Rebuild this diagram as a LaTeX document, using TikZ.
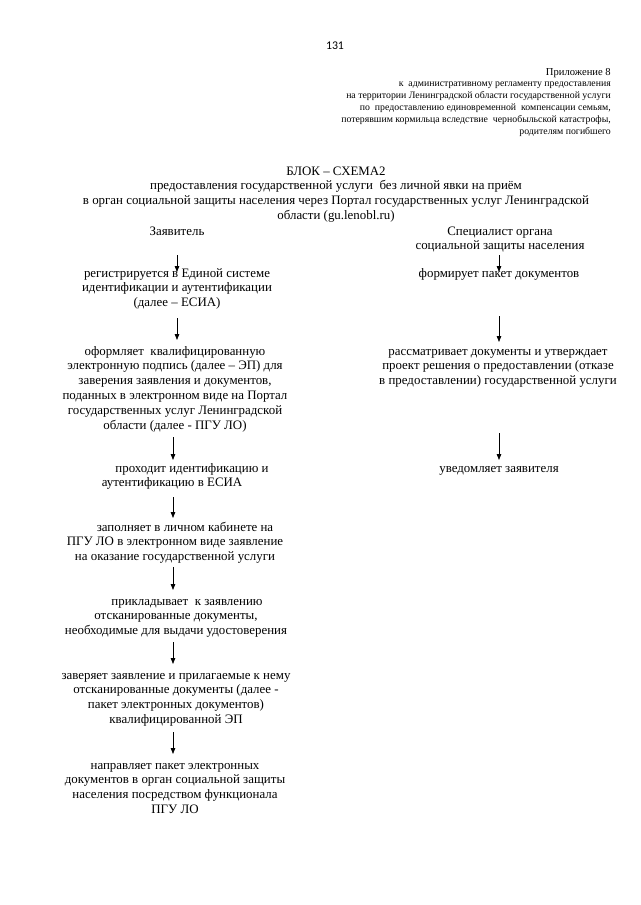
\documentclass[tikz,border=0pt]{standalone}
\usepackage{fontspec}
\setmainfont{Liberation Serif}
\newfontfamily\numfont{Carlito}
\usetikzlibrary{arrows.meta,calc}
\begin{document}
\begin{tikzpicture}[x=1pt,y=1pt,
  txt/.style={font=\fontsize{12.9}{14.85}\selectfont, align=center, anchor=base, inner sep=0pt},
  hdr/.style={font=\fontsize{9.8}{11.8}\selectfont, align=right, anchor=base east, inner sep=0pt},
  arr/.style={-{Triangle[length=6pt,width=4.5pt]}, line width=0.75pt}]
\useasboundingbox (0,0) rectangle (640,-905);
\node[font=\numfont\fontsize{11.8}{14}\selectfont, anchor=base, inner sep=0pt] (pg) at (335,-49) {131};
\node[hdr] (hd) at (611,-134) {{\fontsize{10.6}{11.8}\selectfont Приложение 8}\\
к \ административному регламенту предоставления\\
на территории Ленинградской области государственной услуги\\
по \ предоставлению единовременной \ компенсации семьям,\\
потерявшим кормильца вследствие \ чернобыльской катастрофы,\\
родителям погибшего};
\node[txt] (title) at (336,-219.55) {БЛОК – СХЕМА2\\
предоставления государственной услуги \ без личной явки на приём\\
в орган социальной защиты населения через Портал государственных услуг Ленинградской\\
области (gu.lenobl.ru)};
\node[txt] (zl) at (177,-235) {Заявитель};
\node[txt] (sp) at (500,-249.85) {Специалист органа\\социальной защиты населения};
\node[txt] (l1) at (177,-306.7) {регистрируется в Единой системе\\идентификации и аутентификации\\(далее – ЕСИА)};
\node[txt] (l2) at (175,-429.25) {оформляет \ квалифицированную\\электронную подпись (далее – ЭП) для\\заверения заявления и документов,\\поданных в электронном виде на Портал\\государственных услуг Ленинградской\\области (далее - ПГУ ЛО)};
\node[txt] (l3) at (172,-486.85) {\hspace*{40pt}проходит идентификацию и\\аутентификацию в ЕСИА};
\node[txt] (l4) at (175,-560.7) {\hspace*{20pt}заполняет в личном кабинете на\\ПГУ ЛО в электронном виде заявление\\на оказание государственной услуги};
\node[txt] (l5) at (176,-634.7) {\hspace*{22pt}прикладывает \ к заявлению\\отсканированные документы,\hspace*{18pt}\\необходимые для выдачи удостоверения};
\node[txt] (l6) at (176,-723.55) {заверяет заявление и прилагаемые к нему\\отсканированные документы (далее -\hspace*{12pt}\\пакет электронных документов)\\квалифицированной ЭП};
\node[txt] (l7) at (175,-813.55) {направляет пакет электронных\\документов в орган социальной защиты\\населения посредством функционала\\ПГУ ЛО};
\node[txt] (r1) at (499,-277) {формирует пакет документов};
\node[txt] (r2) at (498,-384.7) {рассматривает документы и утверждает\\проект решения о предоставлении (отказе\\в предоставлении) государственной услуги};
\node[txt] (r3) at (499,-472) {уведомляет заявителя};
\draw[arr] ($(zl.base)+(0,-20)$) -- ($(l1.base)+(0,34.7)$);
\draw[arr] ($(l1.base)+(0,-11.3)$) -- ($(l2.base)+(2,89.25)$);
\draw[arr] ($(l2.base)+(-2,-7.75)$) -- ($(l3.base)+(1,26.85)$);
\draw[arr] ($(l3.base)+(1,-10.15)$) -- ($(l4.base)+(-2,42.7)$);
\draw[arr] ($(l4.base)+(-2,-6.3)$) -- ($(l5.base)+(-3,44.7)$);
\draw[arr] ($(l5.base)+(-3,-7.3)$) -- ($(l6.base)+(-3,59.55)$);
\draw[arr] ($(l6.base)+(-3,-8.45)$) -- ($(l7.base)+(-2,59.55)$);
\draw[arr] ($(sp.base)+(-1,-5.15)$) -- ($(r1.base)+(0,5)$);
\draw[arr] ($(r1.base)+(0,-39)$) -- ($(r2.base)+(1,42.7)$);
\draw[arr] ($(r2.base)+(1,-48.3)$) -- ($(r3.base)+(0,12)$);
\end{tikzpicture}
\end{document}
